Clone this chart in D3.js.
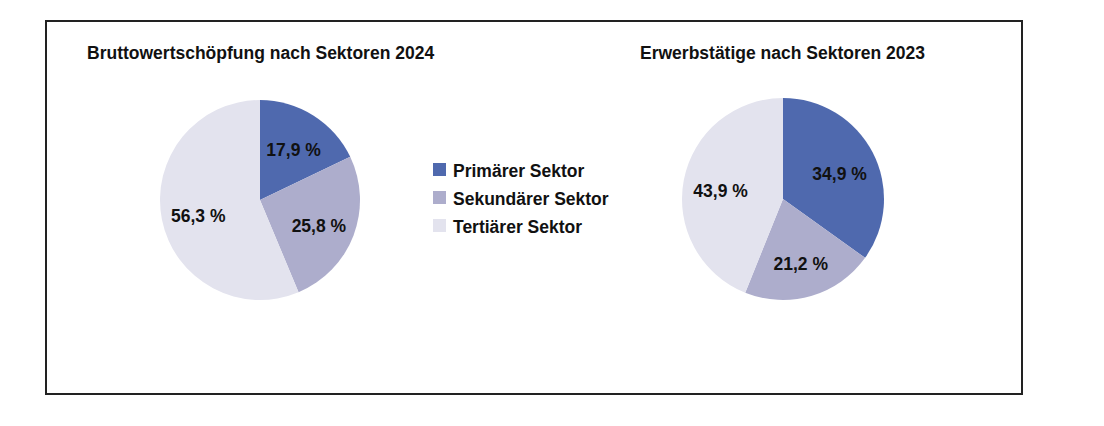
<!DOCTYPE html>
<html>
<head>
<meta charset="utf-8">
<script src="https://cdn.jsdelivr.net/npm/d3@7"></script>
<style>
  body { margin: 0; background: #fff; }
  svg { display: block; font-family: "Liberation Sans", Arial, sans-serif; }
</style>
</head>
<body>
<svg id="chart" width="1104" height="426"></svg>
<script>
// sectors and values
const sectors = ['Primärer Sektor', 'Sekundärer Sektor', 'Tertiärer Sektor']
const sectorColors = ['#4f69ae', '#adadcc', '#e3e3ee']
const valueAdded2024 = [17.9, 25.8, 56.3]
const employed2023 = [34.9, 21.2, 43.9]
const titles = ['Bruttowertschöpfung nach Sektoren 2024', 'Erwerbstätige nach Sektoren 2023']

const svg = d3.select('#chart')
const colors = d3.scaleOrdinal().domain(sectors).range(sectorColors)
const fmt = v => v.toFixed(1).replace('.', ',') + ' %'

// outer frame
svg.append('rect')
  .attr('x', 46).attr('y', 21)
  .attr('width', 976).attr('height', 373)
  .attr('fill', 'none')
  .attr('stroke', '#222')
  .attr('stroke-width', 2)

const pie = d3.pie().sort(null).value(d => d.value)

function drawPie(values, title, cx, cy, r, titleX) {
  svg.append('text')
    .attr('x', titleX).attr('y', 59)
    .attr('font-size', '17.5px')
    .attr('font-weight', 'bold')
    .attr('fill', '#111')
    .text(title)

  const data = sectors.map((s, i) => ({ name: s, value: values[i] }))
  const arc = d3.arc().innerRadius(0).outerRadius(r)
  const labelArc = d3.arc().innerRadius(r * 0.63).outerRadius(r * 0.63)
  const g = svg.append('g').attr('transform', `translate(${cx},${cy})`)

  g.selectAll('path')
    .data(pie(data))
    .enter()
    .append('path')
      .attr('d', arc)
      .attr('fill', d => colors(d.data.name))

  g.selectAll('text')
    .data(pie(data))
    .enter()
    .append('text')
      .attr('transform', d => `translate(${labelArc.centroid(d)})`)
      .attr('text-anchor', 'middle')
      .attr('dy', '0.55em')
      .attr('font-size', '17.5px')
      .attr('font-weight', 'bold')
      .attr('fill', '#111')
      .text(d => fmt(d.data.value))
}

drawPie(valueAdded2024, titles[0], 260, 200, 100, 87)
drawPie(employed2023, titles[1], 783, 199, 101, 640)

// legend
const legend = svg.append('g').attr('transform', 'translate(433,163)')
const rows = legend.selectAll('g')
  .data(sectors)
  .enter()
  .append('g')
    .attr('transform', (d, i) => `translate(0,${i * 28})`)

rows.append('rect')
  .attr('width', 13).attr('height', 13)
  .attr('fill', d => colors(d))

rows.append('text')
  .attr('x', 20).attr('y', 13.5)
  .attr('font-size', '17.5px')
  .attr('font-weight', 'bold')
  .attr('fill', '#111')
  .text(d => d)
</script>
</body>
</html>
